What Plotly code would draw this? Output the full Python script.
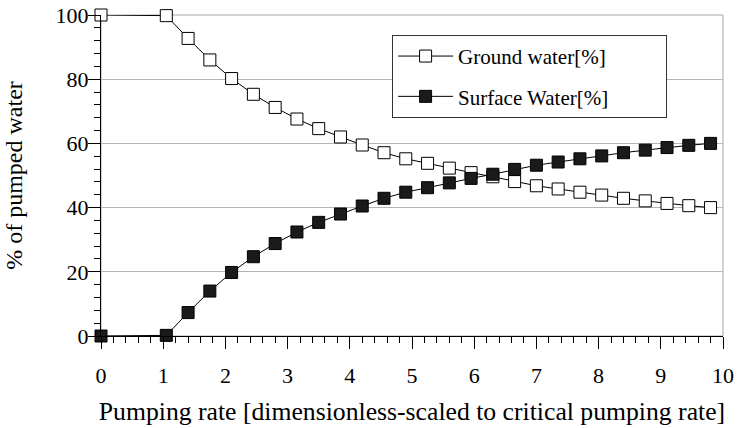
import plotly.graph_objects as go

# Pumping rate (dimensionless, scaled to critical pumping rate)
pumping_rate = [0, 1.05, 1.4, 1.75, 2.1, 2.45, 2.8, 3.15, 3.5, 3.85, 4.2, 4.55, 4.9,
                5.25, 5.6, 5.95, 6.3, 6.65, 7.0, 7.35, 7.7, 8.05, 8.4, 8.75, 9.1, 9.45, 9.8]

ground_water = [100, 99.8, 92.7, 86.0, 80.2, 75.3, 71.2, 67.6, 64.6, 62.0, 59.5, 57.1, 55.2,
                53.8, 52.3, 50.9, 49.6, 48.1, 46.8, 45.8, 44.8, 43.9, 42.9, 42.1, 41.3, 40.6, 40.0]

surface_water = [0, 0.2, 7.3, 14.0, 19.8, 24.7, 28.8, 32.4, 35.4, 38.0, 40.5, 42.9, 44.8,
                 46.2, 47.7, 49.1, 50.4, 51.9, 53.2, 54.2, 55.2, 56.1, 57.1, 57.9, 58.7, 59.4, 60.0]

x_ticks = [0, 1, 2, 3, 4, 5, 6, 7, 8, 9, 10]
y_ticks = [0, 20, 40, 60, 80, 100]

serif = "Liberation Serif"
# invisible tail so the legend box gets as wide as the original one
pad = '\u00a0' * 9 + '<span style="color:white">.</span>'

fig = go.Figure()

fig.add_trace(go.Scatter(
    x=pumping_rate, y=ground_water,
    mode='lines+markers',
    name='Ground water[%]' + pad,
    legendgroup='g1',
    line=dict(color='black', width=1),
    marker=dict(symbol='square', size=12, color='white',
                line=dict(color='black', width=1)),
    cliponaxis=False
))

fig.add_trace(go.Scatter(
    x=pumping_rate, y=surface_water,
    mode='lines+markers',
    name='Surface Water[%]' + pad,
    legendgroup='g2',
    line=dict(color='black', width=1),
    marker=dict(symbol='square', size=12, color='#1a1a1a',
                line=dict(color='black', width=1)),
    cliponaxis=False
))

# grey frame on top / right
fig.add_shape(type='rect', xref='paper', yref='paper', x0=0, y0=0, x1=1, y1=1,
              line=dict(color='#a8a8a8', width=1), layer='below')

fig.update_layout(
    width=738, height=428,
    margin=dict(l=101, r=15, t=15, b=92),
    plot_bgcolor='white',
    paper_bgcolor='white',
    font=dict(family=serif, size=20, color='black'),
    showlegend=True,
    legend=dict(
        x=0.468, y=0.938, xanchor='left', yanchor='top',
        bgcolor='white', bordercolor='#333333', borderwidth=1,
        font=dict(family=serif, size=21, color='black'),
        itemwidth=55, tracegroupgap=10
    ),
    xaxis=dict(
        range=[0, 10],
        tickvals=x_ticks,
        automargin=False,
        ticks='outside', ticklen=12, tickcolor='black', tickwidth=1,
        ticklabelstandoff=8,
        minor=dict(dtick=0.2, ticks='outside', ticklen=6, tickcolor='black', showgrid=False),
        showline=True, linecolor='black', linewidth=1,
        showgrid=False, zeroline=False,
        title=dict(text='Pumping rate [dimensionless-scaled to critical pumping rate]',
                   font=dict(family=serif, size=25.7), standoff=14),
        tickfont=dict(family=serif, size=22)
    ),
    yaxis=dict(
        range=[0, 100],
        tickvals=y_ticks,
        automargin=False,
        ticks='outside', ticklen=12, tickcolor='black', tickwidth=1,
        ticklabelstandoff=-5,
        minor=dict(dtick=4, ticks='outside', ticklen=6, tickcolor='black', showgrid=False),
        showline=True, linecolor='black', linewidth=1,
        showgrid=True, gridcolor='#b4b4b4', gridwidth=1,
        zeroline=False,
        title=dict(text='% of pumped water', font=dict(family=serif, size=24), standoff=26),
        tickfont=dict(family=serif, size=22)
    )
)

fig.write_html("out.html", config={'displayModeBar': False},
               post_script="document.body.style.margin='0';")
